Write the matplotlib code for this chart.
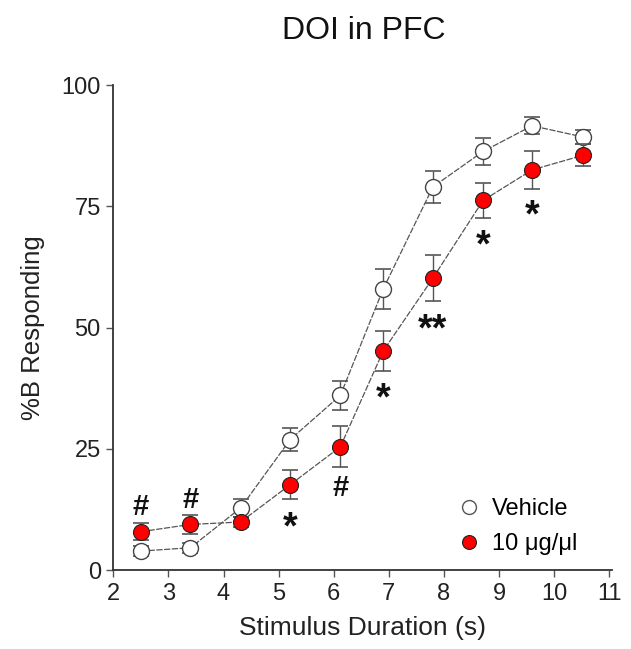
import matplotlib
matplotlib.use("Agg")
import matplotlib.pyplot as plt
from matplotlib.lines import Line2D

plt.rcParams["font.family"] = ["Liberation Sans", "DejaVu Sans"]

# Stimulus durations (s)
duration = [2.50, 3.40, 4.31, 5.21, 6.12, 6.90, 7.80, 8.71, 9.60, 10.52]

# %B responding, mean and SEM
vehicle_mean = [3.9, 4.6, 12.8, 26.9, 36.0, 58.0, 79.0, 86.3, 91.6, 89.3]
vehicle_sem = [1.0, 1.0, 1.8, 2.4, 3.0, 4.1, 3.3, 2.7, 1.8, 1.5]
doi_mean = [7.9, 9.4, 9.9, 17.6, 25.4, 45.2, 60.2, 76.2, 82.5, 85.5]
doi_sem = [1.8, 2.0, 1.0, 3.0, 4.2, 4.1, 4.7, 3.6, 3.9, 2.3]

# significance marks: (label, x, y centre)
hash_marks = [(2.50, 13.5), (3.40, 14.9), (6.12, 17.4)]
star_marks = [("*", 5.21, 11.0), ("*", 6.90, 37.6), ("**", 7.80, 51.8),
              ("*", 8.71, 69.1), ("*", 9.60, 75.2)]

fig = plt.figure(figsize=(6.31, 6.49), dpi=100)
ax = fig.add_axes([0.1796, 0.1217, 0.7903, 0.7473])

line_kw = dict(color="#555555", lw=0.9, dashes=(5, 1.2))
err_kw = dict(fmt="none", ecolor="#555555", elinewidth=1.0, capsize=5.5, capthick=1.2)

ax.errorbar(duration, vehicle_mean, yerr=vehicle_sem, zorder=2, **err_kw)
ax.plot(duration, vehicle_mean, zorder=3, **line_kw)
ax.plot(duration, vehicle_mean, "o", ms=11.5, mfc="white", mec="#444444", mew=1.0,
        zorder=4, label="Vehicle")

ax.errorbar(duration, doi_mean, yerr=doi_sem, zorder=5, **err_kw)
ax.plot(duration, doi_mean, zorder=6, **line_kw)
ax.plot(duration, doi_mean, "o", ms=11.5, mfc="#ff0000", mec="#222222", mew=0.8,
        zorder=7, label="10 μg/μl")

for x, y in hash_marks:
    ax.annotate("#", (x, y), xytext=(0, -0.36 * 21), textcoords="offset points",
                ha="center", va="baseline", fontsize=21, fontweight="bold",
                color="#111111")
for lab, x, y in star_marks:
    ax.annotate(lab, (x, y), xytext=(0, -0.57 * 27), textcoords="offset points",
                ha="center", va="baseline", fontsize=27, fontweight="bold",
                color="#111111")

handles = [
    Line2D([], [], ls="none", marker="o", ms=10, mfc="white", mec="#555555", mew=1.0),
    Line2D([], [], ls="none", marker="o", ms=10, mfc="#ff0000", mec="#222222", mew=0.8),
]
ax.legend(handles, ["Vehicle", "10 μg/μl"], loc="center left",
          bbox_to_anchor=(0.665, 0.09), frameon=False, fontsize=17,
          handlelength=1.0, handletextpad=0.5, labelspacing=0.55, borderpad=0)

ax.set_xlim(2, 11.05)
ax.set_ylim(0, 100)
ax.set_xticks(range(2, 12))
ax.set_yticks([0, 25, 50, 75, 100])
ax.spines["top"].set_visible(False)
ax.spines["right"].set_visible(False)
for s in ("left", "bottom"):
    ax.spines[s].set_color("#333333")
    ax.spines[s].set_linewidth(1.3)
ax.tick_params(axis="both", direction="out", length=5, width=1.0, color="#555555",
               labelsize=17, labelcolor="#222222", pad=4)

ax.set_xlabel("Stimulus Duration (s)", fontsize=19, color="#222222", labelpad=8)
ax.set_ylabel("%B Responding", fontsize=18.5, color="#222222", labelpad=12)
fig.text(0.576, 0.953, "DOI in PFC", ha="center", va="center", fontsize=23,
         color="#111111")

fig.savefig("out.png", dpi=100)
